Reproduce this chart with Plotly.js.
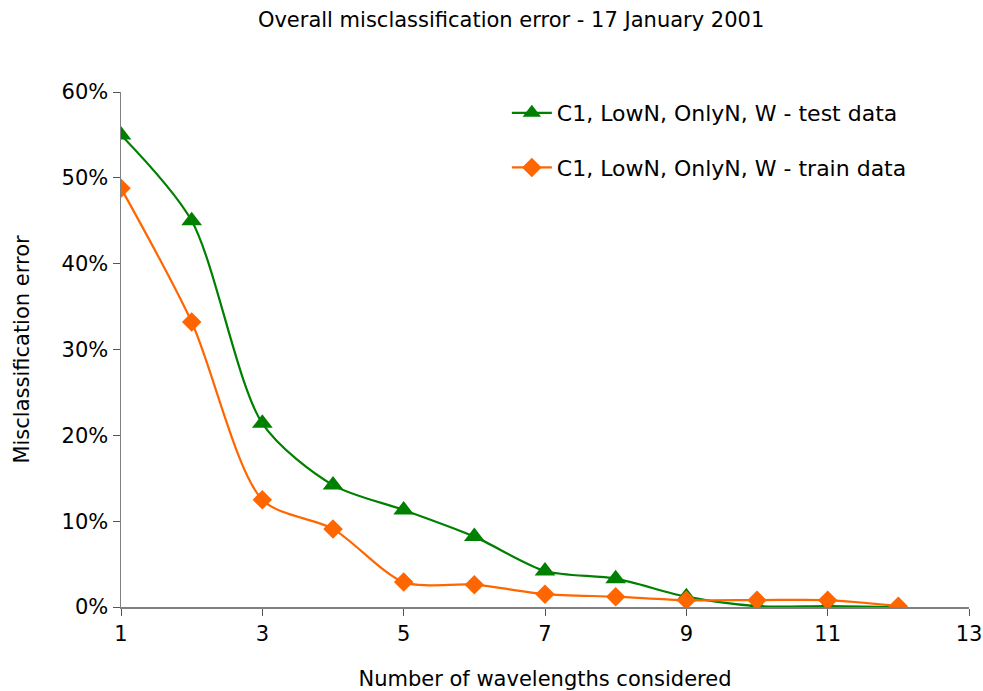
<!DOCTYPE html>
<html><head><meta charset="utf-8">
<script src="https://cdn.plot.ly/plotly-3.0.1.min.js"></script>
<style>body{margin:0;padding:0;background:#fff}#chart{width:983px;height:691px}</style>
</head><body><div id="chart"></div>
<script>
const wavelengths = [1,2,3,4,5,6,7,8,9,10,11,12];
const testError = [0.550,0.450,0.214,0.142,0.113,0.082,0.042,0.033,0.012,0.001,0.001,0.000];
const trainError = [0.488,0.332,0.125,0.091,0.029,0.026,0.015,0.012,0.008,0.008,0.008,0.001];
const testName = "C1, LowN, OnlyN, W - test data";
const trainName = "C1, LowN, OnlyN, W - train data";
const FONT = "Verdana, DejaVu Sans, sans-serif";

const traces = [
  {x: wavelengths, y: testError, name: testName, mode: "lines+markers", legendgroup: "a",
   line: {color: "#008000", width: 2.2, shape: "spline", smoothing: 0.8},
   marker: {symbol: "triangle-up", size: 18, color: "#008000"}},
  {x: wavelengths, y: trainError, name: trainName, mode: "lines+markers", legendgroup: "b",
   line: {color: "#FF6600", width: 2.2, shape: "spline", smoothing: 0.8},
   marker: {symbol: "diamond", size: 15, color: "#FF6600"}}
];

const layout = {
  width: 983, height: 691,
  margin: {l: 121, r: 14, t: 92, b: 84},
  paper_bgcolor: "#fff", plot_bgcolor: "#fff",
  font: {family: FONT, size: 21, color: "#000"},
  title: {text: "Overall misclassification error - 17 January 2001", font: {family: FONT, size: 21, color: "#000"},
          x: 0.46, xref: "paper", xanchor: "center", y: 0.971, yanchor: "middle", yref: "container"},
  xaxis: {range: [1, 13], tickvals: [1,3,5,7,9,11,13], showgrid: false, zeroline: false,
          showline: true, linecolor: "#808080", linewidth: 1.5, ticks: "outside", ticklen: 7, tickcolor: "#555",
          title: {text: "Number of wavelengths considered", font: {family: FONT, size: 21}, standoff: 28},
          tickfont: {family: FONT, size: 21}},
  yaxis: {range: [0, 0.6], tickvals: [0,0.1,0.2,0.3,0.4,0.5,0.6], tickformat: ".0%", showgrid: false, zeroline: false,
          showline: true, linecolor: "#808080", linewidth: 1.5, ticks: "outside", ticklen: 7, tickcolor: "#555",
          title: {text: "Misclassification error", font: {family: FONT, size: 21}, standoff: 26},
          tickfont: {family: FONT, size: 21}},
  legend: {x: 0.455, y: 1.0, xanchor: "left", yanchor: "top", traceorder: "grouped", tracegroupgap: 23,
           font: {family: FONT, size: 22}, bgcolor: "rgba(0,0,0,0)", itemwidth: 40},
  showlegend: true
};
Plotly.newPlot("chart", traces, layout, {displayModeBar: false, staticPlot: true});
</script></body></html>
